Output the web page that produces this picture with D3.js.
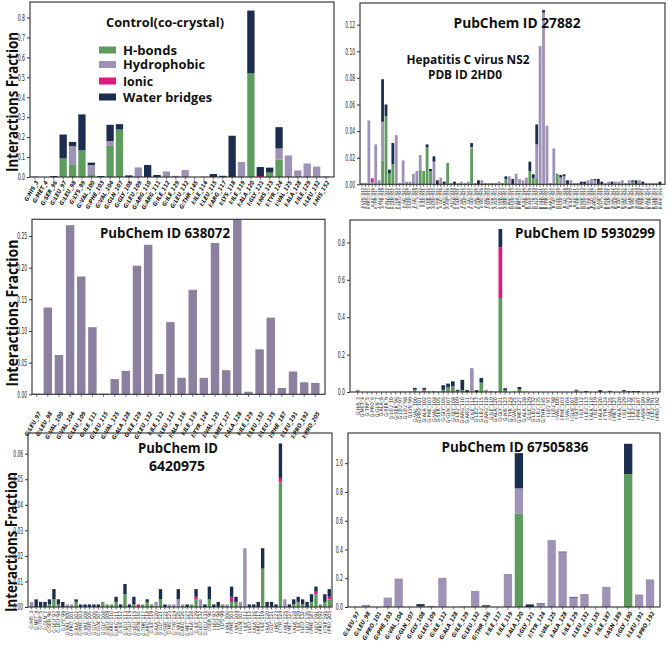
<!DOCTYPE html>
<html><head><meta charset="utf-8">
<script src="https://cdn.jsdelivr.net/npm/d3@7"></script>
<style>body{margin:0;background:#fff}svg{display:block}</style>
</head><body>
<svg id="c" width="669" height="646"></svg>
<script>
// ---------- DATA ----------
const seriesNames = ["H-bonds","Hydrophobic","Ionic","Water bridges"];

// Panel 1: Control (co-crystal)
const cats1 = ["G:HIS_3","G:MET_4","G:SER_96","G:LEU_97","G:LEU_98","G:LYS_99","G:VAL_100","G:PHE_103","G:VAL_104","G:GLN_107","G:GLY_108","G:LEU_109","G:ARG_110","G:ARG_111","G:ILE_112","G:ILE_129","G:LEU_132","G:THR_145","I:ILE_114","I:LEU_115","I:ARG_117","I:LYS_118","I:ILE_119","I:ALA_120","I:GLY_121","I:HIS_123","I:TYR_124","I:VAL_125","I:ALA_128","I:ILE_129","I:LEU_132","I:HIS_152"];
const hb1 = [0,0,0,.093,.064,.134,.010,0,.156,.238, 0,0,0,0,0,0,0,0,0,0, 0,0,0,.52,0,.022,.088,0,0,0, 0,0];
const hp1 = [.003,0,0,0,.09,0,.05,0,.024,0, 0,.048,0,0,.028,.006,.035,0,.002,0, 0,0,.075,0,0,0,.055,.108,.033,.068, .052,.003];
const ion1 = [0,0,0,0,0,0,0,0,0,0, 0,0,0,0,0,0,0,0,0,0, 0,0,0,0,.005,0,0,0,0,0, 0,0];
const wb1 = [0,0,.005,.12,.022,.18,.012,.005,.082,.027, .008,0,.06,.01,0,0,0,0,0,.015, .006,.207,0,.315,.045,.025,.107,0,0,0, 0,0];

// Panel 2: PubChem ID 27882
const cats2 = ["A:LEU_913","A:ALA_914","A:PRO_915","A:ILE_916","A:THR_917","A:ALA_918","A:TYR_919","A:ALA_920","A:GLN_921","A:GLN_922","A:THR_923","A:ARG_924","A:GLY_925","A:LEU_926","A:LEU_927","A:GLY_928","A:CYS_929","A:ILE_930","A:ILE_931","A:THR_932","A:SER_933","A:LEU_934","A:THR_935","A:GLY_936","A:ARG_937","A:ASP_938","A:LYS_939","A:ASN_940","A:GLN_941","A:VAL_942","A:GLU_943","A:GLY_944","A:GLU_945","A:VAL_946","A:GLN_947","A:VAL_948","A:VAL_949","A:SER_950","A:THR_951","A:ALA_952","A:THR_953","A:GLN_954","A:SER_955","A:PHE_956",
"B:LEU_913","B:ALA_914","B:PRO_915","B:ILE_916","B:THR_917","B:ALA_918","B:TYR_919","B:ALA_920","B:GLN_921","B:GLN_922","B:THR_923","B:ARG_924","B:GLY_925","B:LEU_926","B:LEU_927","B:GLY_928","B:CYS_929","B:ILE_930","B:ILE_931","B:THR_932","B:SER_933","B:LEU_934","B:THR_935","B:GLY_936","B:ARG_937","B:ASP_938","B:LYS_939","B:ASN_940","B:GLN_941","B:VAL_942","B:GLU_943","B:GLY_944","B:GLU_945","B:VAL_946","B:GLN_947","B:VAL_948","B:VAL_949","B:SER_950","B:THR_951","B:ALA_952","B:THR_953","B:GLN_954","B:SER_955","B:PHE_956"];
const hb2 = [0,0,0,0,0,0,.018,.051,.008,.015, 0,0,0,0,0,0,0,.011,.010,.028, .010,0,0,0,0,.016,0,0,0,0, 0,0,.027,0,0,0,0,0,0,0, 0,0,.004,0,0,0,0,0,0,.010, .0045,.004,0,0,0,0,0,.008,0,0, 0,0,0,0,0,0,0,0,0,0, 0,0,0,0,0,0,0,0,0,.002, 0,0,0,0,0,0,0,0];
const hp2 = [.001,.001,.048,.0015,.030,.003,.029,0,0,0, .037,.001,.018,.002,.002,.008,.010,.011,0,0, 0,.017,0,.005,0,0,.001,0,.001,.002, .001,.002,.001,.001,0,.003,.001,.001,.001,.001, .002,.001,0,.006,0,.008,.004,.003,.005,0, 0,.026,.104,.129,.044,.001,.027,0,.005,.006, 0,.003,.001,.001,0,0,.003,.004,.003,0, 0,.001,.002,0,.002,.002,.003,.001,.003,0, 0,.003,0,.001,.001,.001,.001,0];
const ion2 = [0,0,0,.003,0,0,0,0,0,0, 0,0,0,0,0,0,0,0,0,0, 0,0,0,0,0,0,0,0,0,0, 0,0,0,0,0,0,0,0,0,0, 0,0,0,0,0,0,0,0,0,0, 0,0,0,0,0,0,0,0,0,0, 0,0,0,0,0,0,0,0,0,0, 0,0,0,0,0,0,0,0,0,0, 0,0,0,0,0,0,0,0];
const wb2 = [0,0,0,0,0,0,.032,.009,.003,.016, 0,0,0,0,0,0,0,0,0,.002, .0015,.004,.003,0,.002,0,0,.002,0,0, 0,0,.003,0,.003,0,0,0,0,0, 0,0,.002,0,.004,0,0,0,0,.007, .003,.015,0,.002,0,0,0,0,.002,.0015, .003,0,0,0,.002,.002,0,0,.001,.004, .002,0,0,.002,0,0,0,0,0,.001, .003,0,.002,0,0,0,0,.002];

// Panel 3: PubChem ID 638072
const cats3 = ["G:LEU_97","G:LEU_98","G:VAL_100","G:VAL_104","G:LEU_109","G:ILE_111","G:LEU_115","G:VAL_125","G:ALA_128","G:ILE_129","G:LEU_132","I:ILE_112","I:LEU_113","I:ALA_116","I:ILE_119","I:TYR_124","I:VAL_125","I:MET_127","I:ALA_128","I:ILE_129","I:LEU_132","I:LEU_135","I:PHE_187","I:LEU_191","I:PRO_192","I:PRO_205"];
const hp3 = [.001,.137,.062,.267,.186,.106,.001,.024,.037,.203,.236,.032,.114,.026,.165,.026,.239,.038,.285,.004,.071,.121,.010,.036,.019,.018];

// Panel 4: PubChem ID 5930299
const cats4 = ["G:HIS_3","G:MET_4","G:TRP_5","G:PRO_6","G:GLN_7","G:ALA_8","G:SER_9","G:LEU_10","G:SER_96","G:LEU_97","G:LEU_98","G:LYS_99","G:VAL_100","G:PRO_101","G:ALA_102","G:PHE_103","G:VAL_104","G:SER_105","G:GLY_106","G:GLN_107","G:GLY_108","G:LEU_109","G:ARG_110","G:ARG_111","G:ILE_112","G:LEU_113","G:LEU_115","G:ARG_118","G:ILE_119","G:ALA_120","G:GLY_121","G:HIS_123","G:TYR_124","G:VAL_125","G:MET_127","G:ALA_128","G:ILE_129","G:LEU_132","G:LEU_135","G:THR_145","I:LEU_97","I:LEU_98","I:VAL_100","I:PHE_103","I:VAL_104","I:GLN_107","I:GLY_108","I:ILE_112","I:LEU_113","I:ALA_116","I:ILE_119","I:ALA_120","I:TYR_124","I:VAL_125","I:MET_127","I:ALA_128","I:ILE_129","I:LEU_132","I:LEU_135","I:PHE_187","I:ASN_189","I:GLY_190","I:LEU_191","I:PRO_192"];
const hb4 = [0,0,0,0,0,0,0,0,0,0, 0,0,.010,0,.010,0,0,0,.012,.025, .030,.006,.010,0,0,0,.050,0,0,0, .503,.010,0,0,.015,0,0,0,0,0, 0,0,0,0,0,0,.005,0,0,0, 0,0,0,0,0,0,.004,0,0,0, 0,0,0,0];
const hp4 = [.012,0,0,0,0,0,0,0,.003,.003, .001,.003,0,.003,0,.004,0,.003,0,0, 0,0,0,0,.123,0,0,.012,.005,.002, 0,0,0,.003,0,.002,0,0,0,0, 0,0,0,0,0,0,0,0,0,0, 0,0,0,0,0,0,0,0,0,0, 0,0,0,0];
const ion4 = [0,0,0,0,0,0,0,0,0,0, 0,0,.004,0,.004,0,0,0,0,0, 0,0,0,0,0,0,0,0,0,0, .271,0,0,0,0,0,0,0,0,0, 0,0,0,0,0,0,.003,0,0,0, 0,0,0,.002,0,0,0,0,0,0, 0,0,0,.003];
const wb4 = [0,0,0,0,0,0,0,0,0,0, 0,0,.008,0,.008,0,.003,0,.024,.020, .027,.006,.055,.010,.002,.010,.025,0,0,0, .098,.010,0,0,.012,0,0,0,0,0, 0,0,0,0,0,0,.004,0,.005,0, 0,.010,0,.004,0,0,.006,.004,.005,.005, 0,0,0,0];

// Panel 5: PubChem ID 6420975
const cats5 = ["G:HIS_3","G:MET_4","G:TRP_5","G:GLN_7","G:SER_96","G:LEU_97","G:LEU_98","G:LYS_99","G:VAL_100","G:PRO_101","G:ALA_102","G:PHE_103","G:VAL_104","G:SER_105","G:GLY_106","G:GLN_107","G:GLY_108","G:LEU_109","G:ARG_110","G:ARG_111","G:ILE_112","G:LEU_113","G:GLU_114","G:LEU_115","G:ASN_116","G:THR_117","G:ARG_118","G:ILE_119","G:ALA_120","G:GLY_121","G:SER_122","G:HIS_123","G:TYR_124","G:VAL_125","G:ARG_126","G:MET_127","G:ALA_128","G:ILE_129","G:LEU_132","G:LEU_135","I:SER_96","I:LEU_97","I:LEU_98","I:LYS_99","I:VAL_100","I:PHE_103","I:VAL_104","I:GLN_107","I:ILE_112","I:LEU_113","I:ALA_116","I:ARG_117","I:ILE_119","I:ALA_120","I:GLY_121","I:HIS_123","I:TYR_124","I:VAL_125","I:MET_127","I:ALA_128","I:ILE_129","I:LEU_132","I:LEU_135","I:PHE_187","I:LEU_191","I:PRO_192","I:TRP_195","I:PRO_205"];
const hb5 = [0,0,0,0,.001,.003,.001,0,0,0, .002,0,0,0,0,0,.002,.001,.001,.002, 0,.005,0,.001,0,.001,.002,.001,0,.003, 0,0,0,0,0,0,.001,.003,0,0, .003,0,0,.001,0,.002,.002,0,0,0, 0,0,.015,0,0,0,.049,0,0,.001, .002,.001,0,.002,.005,.001,.002,.003];
const hp5 = [.002,0,0,0,0,0,0,0,.001,.001, 0,0,0,0,0,0,0,0,0,0, 0,0,0,0,0,0,0,0,.002,0, 0,.001,.001,.003,.001,0,0,0,.003,0, 0,0,0,0,.001,0,0,.002,.023,0, 0,0,0,0,0,0,0,.003,0,0, 0,0,0,0,0,0,0,0];
const ion5 = [0,0,0,0,0,0,0,0,0,0, 0,0,0,0,0,0,0,0,0,0, 0,0,0,0,.001,0,0,0,0,0, 0,0,0,0,0,0,0,.001,0,0, 0,0,0,0,0,.002,0,0,0,0, 0,0,0,0,0,0,.0015,0,0,0, 0,0,0,0,.001,0,0,.001];
const wb5 = [0,.003,.002,.002,.002,.004,.002,.002,0,0, .001,.001,.001,.001,.001,.001,0,0,0,.002, .001,.004,.001,.003,0,0,.001,0,0,.004, .001,0,0,.004,0,.001,0,.003,0,.001, .005,.001,.002,0,0,.004,.002,0,0,.001, .001,.002,.008,.002,.002,.001,.0135,0,.001,.002, .002,.002,.002,.003,.002,0,.003,.003];

// Panel 6: PubChem ID 67505836
const cats6 = ["G:LEU_97","G:LEU_98","G:PRO_101","G:PHE_103","G:VAL_104","G:GLN_107","G:GLY_108","G:LEU_109","G:ILE_112","G:ALA_128","G:ILE_129","G:LEU_132","G:THR_136","I:ILE_117","I:ILE_119","I:ALA_120","I:GLY_121","I:TYR_124","I:VAL_125","I:ALA_128","I:ILE_129","I:LEU_132","I:LEU_135","I:ILE_187","I:ASN_189","I:GLY_190","I:LEU_191","I:PRO_192"];
const hb6 = [0,0,0,0,0,0,0,0,0,0, 0,0,0,0,0,.65,0,0,0,0, 0,0,0,0,0,.925,0,0];
const hp6 = [0,.015,0,.065,.198,0,.004,.008,.203,0, .003,.112,.003,0,.23,.175,0,.02,.465,.38, .065,.09,0,.14,0,0,.087,.192];
const ion6 = [0,0,0,0,0,0,0,0,0,0, 0,0,0,0,0,0,0,0,0,0, 0,0,0,0,0,0,0,0];
const wb6 = [0,0,0,0,0,0,.016,0,0,0, 0,0,.009,0,0,.245,.018,.005,0,.005, .005,0,0,0,0,.21,0,0];

// ---------- DRAWING ----------
const COL = {hb:"#5e9b5f", hp:"#9e93b6", ion:"#e0187d", wb:"#1c2e4f"};
const KEYS = ["hb","hp","ion","wb"];
const svg = d3.select("#c");
svg.append("rect").attr("width",669).attr("height",646).attr("fill","#fff");
const TICKFONT = "'Liberation Sans Narrow','DejaVu Sans Condensed',sans-serif";
const TITLEFONT = "'Open Sans', 'Liberation Sans', sans-serif";

function panel(c){
  const g = svg.append("g");
  const n = c.cats.length;
  const x = d3.scaleBand().domain(d3.range(n)).range([c.bx0,c.bx1]).paddingInner(c.pad).paddingOuter(c.pad/2);
  const y = d3.scaleLinear().domain([0,c.ymax]).range([c.bottom,c.top]);
  const rows = c.cats.map((cat,i)=>({i, hb:c.hb?c.hb[i]||0:0, hp:c.hp?c.hp[i]||0:0, ion:c.ion?c.ion[i]||0:0, wb:c.wb?c.wb[i]||0:0}));
  const st = d3.stack().keys(KEYS)(rows);
  const cid = "clip"+c.id;
  svg.append("clipPath").attr("id",cid).append("rect")
    .attr("x",c.left).attr("y",c.top).attr("width",c.right-c.left).attr("height",c.bottom-c.top);
  g.append("g").attr("clip-path",`url(#${cid})`)
    .selectAll("g").data(st).join("g").attr("fill",d=>(d.key==="hp"&&c.hpColor)?c.hpColor:COL[d.key])
    .selectAll("rect").data(d=>d.filter(s=>s[1]-s[0]>0)).join("rect")
    .attr("x",d=>x(d.data.i)).attr("width",x.bandwidth())
    .attr("y",d=>y(d[1])).attr("height",d=>y(d[0])-y(d[1]));
  // frame
  g.append("rect").attr("x",c.left).attr("y",c.top).attr("width",c.right-c.left).attr("height",c.bottom-c.top)
    .attr("fill","none").attr("stroke","#2a2a2a").attr("stroke-width",1.1);
  // y axis
  const fmt = d3.format(c.yfmt);
  const ya = g.append("g").attr("transform",`translate(${c.left},0)`)
    .call(d3.axisLeft(y).tickValues(c.yticks).tickFormat(fmt).tickSize(3).tickPadding(2));
  ya.select(".domain").remove();
  ya.selectAll("line").attr("stroke","#333");
  ya.selectAll("text").attr("font-family",TICKFONT).attr("font-size",8.5).attr("fill","#222")
    .attr("textLength",d=>fmt(d).length*2.45).attr("lengthAdjust","spacingAndGlyphs");
  // x ticks
  const xa = g.append("g").attr("transform",`translate(0,${c.bottom})`)
    .call(d3.axisBottom(x).tickSize(2.5).tickFormat(""));
  xa.select(".domain").remove();
  xa.selectAll("line").attr("stroke","#333").attr("stroke-width",0.7);
  // x labels
  g.append("g").selectAll("text").data(c.cats).join("text")
    .attr("transform",(d,i)=>`translate(${x(i)+x.bandwidth()/2+c.ldx},${c.ly}) rotate(${c.rot})`)
    .attr("text-anchor","end").attr("dy","0.35em")
    .attr("font-family",TICKFONT).attr("font-size",c.lfs).attr("fill","#1a1a1a")
    .attr("font-style",c.italic?"italic":"normal").attr("font-weight",c.lbold?"bold":"normal")
    .text(d=>d);
  // titles
  (c.titles||[]).forEach(t=>{
    g.append("text").attr("x",t.x).attr("y",t.y).attr("text-anchor","middle")
      .attr("font-family",TITLEFONT).attr("font-weight",700).attr("font-size",t.fs)
      .attr("textLength",t.w).attr("lengthAdjust","spacingAndGlyphs").attr("fill","#111").text(t.text);
  });
  if(c.ylab){
    g.append("text").attr("transform",`translate(${c.ylab.x},${c.ylab.y}) rotate(-90)`)
      .attr("text-anchor","middle").attr("font-family",TITLEFONT).attr("font-weight",700)
      .attr("font-size",15.5).attr("textLength",c.ylab.w).attr("lengthAdjust","spacingAndGlyphs")
      .attr("fill","#111").text("Interactions Fraction");
  }
}

const tk = (a,b,s)=>d3.range(0,Math.round((b-a)/s)+1).map(k=>+(a+k*s).toFixed(3));

panel({id:1,cats:cats1,hb:hb1,hp:hp1,ion:ion1,wb:wb1,left:30,right:334,top:2,bottom:177,ymax:0.878,
  bx0:30.3,bx1:330.7,pad:0.22,yticks:tk(0,0.8,0.1),yfmt:".1f",rot:-60,lfs:5.8,ly:181,ldx:2,italic:true,lbold:true,
  titles:[{text:"Control(co-crystal)",x:165,y:27,fs:13,w:118}],
  ylab:{x:17.5,y:102,w:140}});
panel({id:2,cats:cats2,hb:hb2,hp:hp2,ion:ion2,wb:wb2,left:360,right:665,top:3,bottom:184.3,ymax:0.1363,
  bx0:360.3,bx1:661.7,pad:0.18,yticks:tk(0,0.12,0.02),yfmt:".2f",rot:-90,lfs:4.3,ly:188,ldx:0,
  titles:[{text:"PubChem ID 27882",x:517,y:28,fs:15,w:127},
          {text:"Hepatitis C virus NS2",x:468,y:64,fs:12,w:123},
          {text:"PDB ID  2HD0",x:465,y:79,fs:12,w:74}]});
panel({id:3,cats:cats3,hp:hp3,hpColor:"#8b809f",left:32,right:325,top:219.3,bottom:394.3,ymax:0.2763,
  bx0:31.1,bx1:320.9,pad:0.24,yticks:tk(0,0.25,0.05),yfmt:".2f",rot:-60,lfs:5.8,ly:412,ldx:3,italic:true,lbold:true,
  titles:[{text:"PubChem ID 638072",x:165,y:238,fs:15,w:130}],
  ylab:{x:17.5,y:313,w:147}});
panel({id:4,cats:cats4,hb:hb4,hp:hp4,ion:ion4,wb:wb4,left:350,right:660,top:220,bottom:392,ymax:0.92,
  bx0:355.3,bx1:659.7,pad:0.22,yticks:tk(0,0.8,0.2),yfmt:".1f",rot:-90,lfs:5.2,ly:397,ldx:0,
  titles:[{text:"PubChem ID 5930299",x:585,y:238,fs:15,w:140}]});
panel({id:5,cats:cats5,hb:hb5,hp:hp5,ion:ion5,wb:wb5,left:28,right:332,top:433,bottom:607,ymax:0.0681,
  bx0:29.5,bx1:331.5,pad:0.24,yticks:tk(0,0.06,0.01),yfmt:".2f",rot:-90,lfs:5,ly:611,ldx:0,
  titles:[{text:"PubChem ID",x:178,y:453,fs:15,w:80},{text:"6420975",x:177,y:471,fs:15,w:56}],
  ylab:{x:16.5,y:542,w:140}});
panel({id:6,cats:cats6,hb:hb6,hp:hp6,ion:ion6,wb:wb6,left:348,right:660,top:433,bottom:607,ymax:1.21,
  bx0:349.5,bx1:655.5,pad:0.24,yticks:tk(0,1.0,0.2),yfmt:".1f",rot:-60,lfs:5.8,ly:612,ldx:3,italic:true,lbold:true,
  titles:[{text:"PubChem ID 67505836",x:515,y:452,fs:15,w:147}]});

// legend (inside panel 1)
const lg = svg.append("g");
const lgY = [50,64.5,81,97];
const lgW = [54,82,30,89];
KEYS.forEach((k,i)=>{
  lg.append("rect").attr("x",99).attr("y",lgY[i]-3.5).attr("width",17).attr("height",7).attr("fill",COL[k]);
  lg.append("text").attr("x",123).attr("y",lgY[i]).attr("dy","0.36em")
    .attr("font-family",TITLEFONT).attr("font-weight",700).attr("font-size",12.5)
    .attr("textLength",lgW[i]).attr("lengthAdjust","spacingAndGlyphs")
    .attr("fill","#111").text(seriesNames[i]);
});
</script>
</body></html>
